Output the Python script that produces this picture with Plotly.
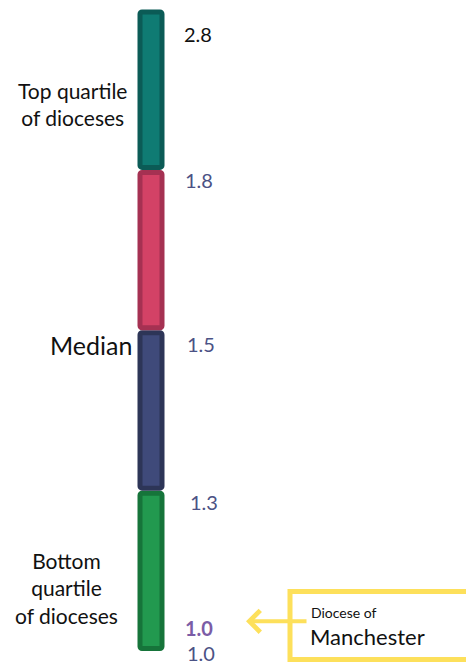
import plotly.graph_objects as go

# Quartile bands of dioceses, bottom to top
bands = ["Bottom quartile", "Third quartile", "Second quartile", "Top quartile"]
band_fill = ["#22994f", "#3f4a7a", "#d34266", "#0f7b73"]
band_edge = ["#16743a", "#2d3557", "#a53152", "#0b5b56"]

# Boundary values between bands (minimum, Q1, median, Q3, maximum)
boundary_values = [1.0, 1.3, 1.5, 1.8, 2.8]
boundary_labels = ["1.0", "1.3", "1.5", "1.8", "2.8"]

# Highlighted diocese
diocese_name = "Manchester"
diocese_value = 1.0
diocese_rank_pos = 0.16  # position on the quartile scale

W, H = 466, 665
PX = 160.375          # pixels per quartile band
bottom_px = 14        # distance from bottom of page to the bar's lower edge
inset = 2.5 / PX      # keep each band's outline separate from its neighbour

bar_x = 151
fig = go.Figure()
fig.add_trace(go.Bar(
    x=[bar_x] * len(bands),
    y=[1 - 2 * inset] * len(bands),
    base=[i + inset for i in range(len(bands))],
    width=22,
    marker=dict(color=band_fill, line=dict(color=band_edge, width=5)),
    hoverinfo="skip",
    showlegend=False,
))

font = "Lato, 'Open Sans', sans-serif"
ann = []

# Value labels at the band boundaries
label_shift = [-2, -11.5, -14, -10, -24]
label_dx = [2, 5, 2, 0, -1]
label_color = ["#4b5285", "#4b5285", "#4b5285", "#4b5285", "#111111"]
for i, (lab, dy, dx, c) in enumerate(zip(boundary_labels, label_shift, label_dx, label_color)):
    ann.append(dict(x=183, y=i, xref="x", yref="y", text=lab, showarrow=False,
                    xanchor="left", yanchor="middle", xshift=dx, yshift=dy,
                    font=dict(family=font, size=20, color=c)))

# Band captions on the left
ann.append(dict(x=72, y=3.5, xref="x", yref="y", text="Top quartile<br>of dioceses",
                showarrow=False, xanchor="center", yanchor="middle", yshift=-14,
                font=dict(family=font, size=21, color="#111111")))
ann.append(dict(x=134, y=2, xref="x", yref="y", text="Median",
                showarrow=False, xanchor="right", yanchor="middle", yshift=-15,
                font=dict(family=font, size=25, color="#111111")))
ann.append(dict(x=66, y=0.5, xref="x", yref="y", text="Bottom<br>quartile<br>of dioceses",
                showarrow=False, xanchor="center", yanchor="middle", yshift=-17,
                font=dict(family=font, size=21, color="#111111")))

# Highlighted diocese value
ann.append(dict(x=183, y=diocese_rank_pos, xref="x", yref="y",
                text="<b>%.1f</b>" % diocese_value, showarrow=False,
                xanchor="left", yanchor="middle", yshift=-3,
                font=dict(family=font, size=20, color="#7b5ca6")))

# Arrow from the callout box to the diocese value
yellow = "#fde05b"
ann.append(dict(x=246, y=diocese_rank_pos, xref="x", yref="y",
                ax=308, ay=diocese_rank_pos, axref="x", ayref="y",
                yshift=4, text="", showarrow=True, arrowhead=4, arrowsize=1.05,
                arrowwidth=4, arrowcolor=yellow, standoff=0))

# Callout text
ann.append(dict(x=309, y=1 - 612 / H, xref="x", yref="paper", text="Diocese of",
                showarrow=False, xanchor="left", yanchor="middle",
                font=dict(family=font, size=14, color="#111111")))
ann.append(dict(x=308, y=1 - 636 / H, xref="x", yref="paper", text=diocese_name,
                showarrow=False, xanchor="left", yanchor="middle",
                font=dict(family=font, size=22, color="#111111")))

shapes = [dict(type="rect", xref="x", yref="paper", x0=290, x1=475,
               y0=1 - 659.5 / H, y1=1 - 591.5 / H,
               line=dict(color=yellow, width=5), fillcolor="rgba(0,0,0,0)")]

fig.update_layout(
    width=W, height=H, autosize=False,
    margin=dict(l=0, r=0, t=0, b=0),
    paper_bgcolor="white", plot_bgcolor="white",
    barmode="overlay", barcornerradius=2,
    xaxis=dict(range=[0, W], visible=False, fixedrange=True),
    yaxis=dict(range=[-bottom_px / PX, (H - bottom_px) / PX], visible=False, fixedrange=True),
    annotations=ann, shapes=shapes,
)

fig.write_html("out.html", config={"displayModeBar": False})
